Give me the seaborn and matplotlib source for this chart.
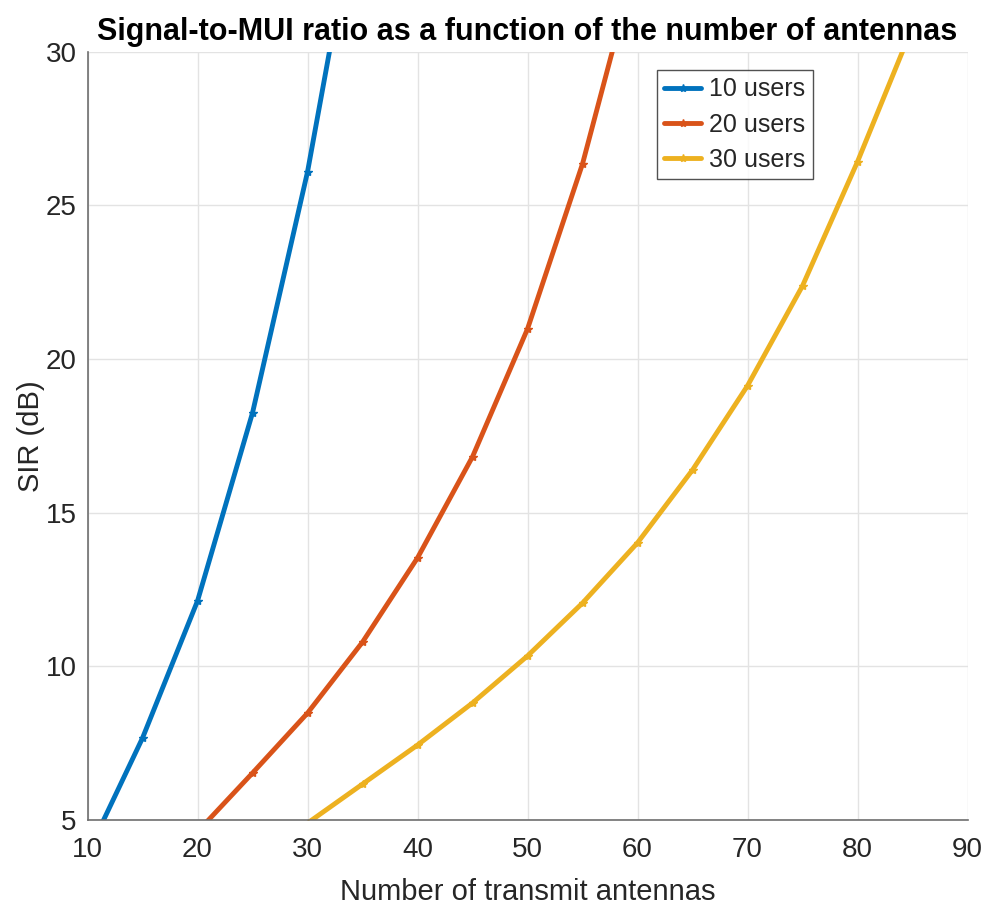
import matplotlib
matplotlib.use("Agg")
import matplotlib.pyplot as plt
import seaborn as sns
import pandas as pd

# Data
x_10 = [10, 15, 20, 25, 30, 35]
sir_10 = [3.9, 7.67, 12.13, 18.25, 26.09, 35.9]
x_20 = [20, 25, 30, 35, 40, 45, 50, 55, 60]
sir_20 = [4.62, 6.53, 8.48, 10.79, 13.53, 16.82, 20.98, 26.35, 33.1]
x_30 = [30, 35, 40, 45, 50, 55, 60, 65, 70, 75, 80, 85]
sir_30 = [4.9, 6.17, 7.44, 8.81, 10.34, 12.06, 14.02, 16.39, 19.13, 22.38, 26.42, 30.8]
labels = ["10 users", "20 users", "30 users"]
colors = ["#0072BD", "#D95319", "#EDB120"]

df = pd.concat([
    pd.DataFrame({"x": x_10, "y": sir_10, "series": labels[0]}),
    pd.DataFrame({"x": x_20, "y": sir_20, "series": labels[1]}),
    pd.DataFrame({"x": x_30, "y": sir_30, "series": labels[2]}),
], ignore_index=True)

sns.set_style("white")
plt.rcParams["font.family"] = ["Liberation Sans", "DejaVu Sans"]
plt.rcParams["text.color"] = "#262626"

fig = plt.figure(figsize=(9.87, 9.09), dpi=100)
ax = fig.add_axes([0.0887, 0.0979, 0.8916, 0.8454])

sns.lineplot(data=df, x="x", y="y", hue="series", palette=colors,
             marker="*", markersize=6, markeredgewidth=1, linewidth=3.5,
             ax=ax, sort=False, estimator=None)
for ln in ax.get_lines():
    ln.set_markeredgecolor(ln.get_color())
    ln.set_markerfacecolor(ln.get_color())

ax.set_xlim(10, 90)
ax.set_ylim(5, 30)
ax.set_xticks(range(10, 91, 10))
ax.set_yticks(range(5, 31, 5))
ax.grid(True, color="#e3e3e3", linewidth=1)
ax.set_axisbelow(True)
for s in ["top", "right"]:
    ax.spines[s].set_visible(False)
for s in ["left", "bottom"]:
    ax.spines[s].set_color("#6e6e6e")
    ax.spines[s].set_linewidth(1.2)
ax.tick_params(direction="in", length=7, width=1, color="#6e6e6e",
               labelsize=20, labelcolor="#262626")
ax.tick_params(axis="x", pad=12)
ax.tick_params(axis="y", pad=8)

ax.set_xlabel("Number of transmit antennas", fontsize=21, color="#262626", labelpad=11)
ax.set_ylabel("SIR (dB)", fontsize=21, color="#262626", labelpad=0)
ax.set_title("Signal-to-MUI ratio as a function of the number of antennas",
             fontsize=22, fontweight="bold", color="black", pad=8,
             family=["Liberation Sans Narrow", "Liberation Sans", "DejaVu Sans"])

leg = ax.legend(loc="upper left", bbox_to_anchor=(0.647, 0.976), borderaxespad=0,
                fontsize=18, frameon=True, fancybox=False, handlelength=1.45,
                handletextpad=0.35, labelspacing=0.45, borderpad=0.3, title=None)
leg.get_frame().set_edgecolor("#262626")
leg.get_frame().set_linewidth(1)
for h in leg.legend_handles:
    h.set_markeredgecolor(h.get_color())
    h.set_markerfacecolor(h.get_color())

fig.savefig("out.png", dpi=100)
